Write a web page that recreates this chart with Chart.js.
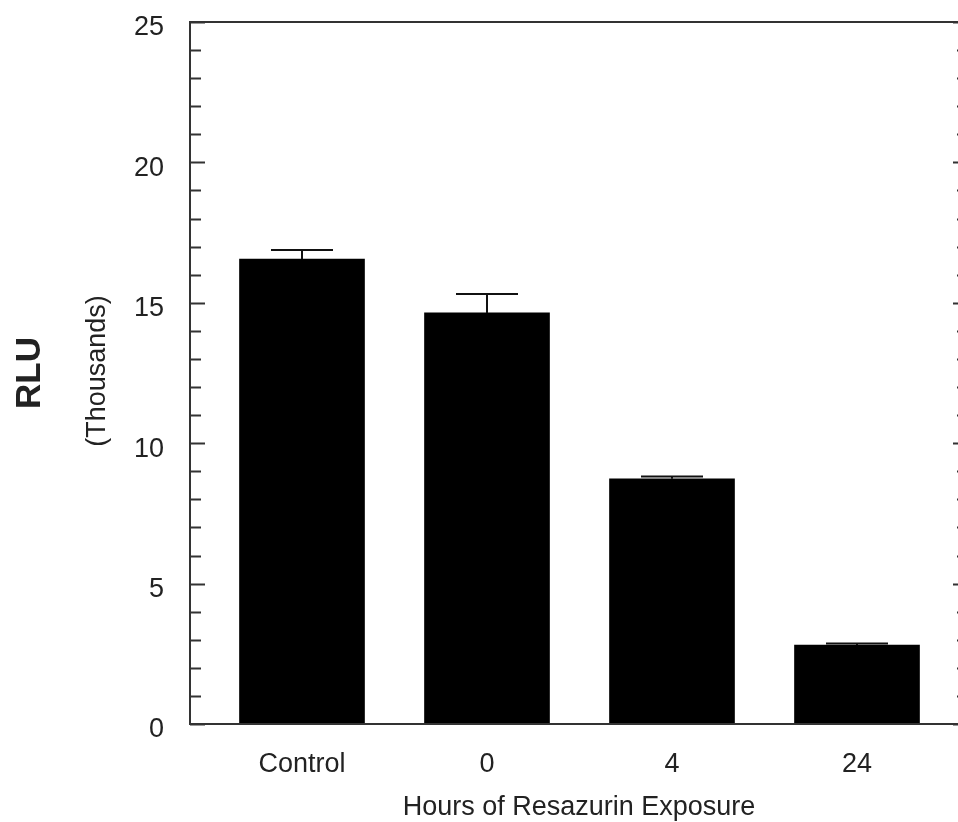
<!DOCTYPE html>
<html>
<head>
<meta charset="utf-8">
<script src="https://cdn.jsdelivr.net/npm/chart.js@4.4.1/dist/chart.umd.min.js"></script>
<style>
	html, body { margin: 0; padding: 0; background: #fff; overflow: hidden; }
	#wrap { width: 990px; height: 822px; }
</style>
</head>
<body>
<div id="wrap"><canvas id="myChart" width="990" height="822"></canvas></div>
<script>
const categories = ['Control', '0', '4', '24']
const rluValues = [16.56, 14.64, 8.73, 2.81]
const rluErrors = [0.32, 0.67, 0.08, 0.06]
const yTicks = [0, 5, 10, 15, 20, 25]

Chart.defaults.font.family = '"Liberation Sans", Arial, sans-serif'
Chart.defaults.color = '#222'

// inward ticks on left and right axes, plus the box and error bars
const framePlugin = {
	id: 'frame',
	afterDatasetsDraw(chart) {
		const ctx = chart.ctx
		const area = chart.chartArea
		const x = chart.scales.x
		const y = chart.scales.y

		ctx.save()
		ctx.strokeStyle = '#111'
		ctx.lineWidth = 2

		// error bars (upper only)
		rluValues.forEach(function (v, i) {
			const px = x.getPixelForValue(i)
			const yTop = y.getPixelForValue(v + rluErrors[i])
			const yBar = y.getPixelForValue(v)
			ctx.beginPath()
			ctx.moveTo(px, yBar)
			ctx.lineTo(px, yTop)
			ctx.moveTo(px - 31, yTop)
			ctx.lineTo(px + 31, yTop)
			ctx.stroke()
		})

		// minor + major ticks
		ctx.strokeStyle = '#333'
		for (let t = 0; t <= 25; t++) {
			const py = Math.round(y.getPixelForValue(t)) + 0.5
			const len = t % 5 === 0 ? 15 : 11
			ctx.beginPath()
			ctx.moveTo(area.left, py)
			ctx.lineTo(area.left + len, py)
			ctx.moveTo(area.right, py)
			ctx.lineTo(area.right - len, py)
			ctx.stroke()
		}

		// box
		ctx.strokeRect(area.left, area.top, area.right - area.left, area.bottom - area.top)

		// secondary y label
		ctx.translate(98, (area.top + area.bottom) / 2 - 2)
		ctx.rotate(-Math.PI / 2)
		ctx.fillStyle = '#222'
		ctx.font = '27px "Liberation Sans", Arial, sans-serif'
		ctx.textAlign = 'center'
		ctx.textBaseline = 'middle'
		ctx.fillText('(Thousands)', 0, 0)
		ctx.restore()
	},
}

const ctx1 = document.getElementById('myChart')

new Chart(ctx1, {
	type: 'bar',
	data: {
		datasets: [
			{
				label: 'RLU',
				data: categories.map(function (c, i) {
					return { x: i, y: rluValues[i] }
				}),
				backgroundColor: '#000',
				borderWidth: 0,
				barThickness: 125,
			},
		],
	},
	options: {
		responsive: false,
		animation: false,
		layout: {
			padding: { top: 22, right: 22, bottom: 0, left: 0 },
		},
		scales: {
			x: {
				type: 'linear',
				offset: false,
				min: -0.6054,
				max: 3.6,
				grid: { display: false, drawTicks: false, offset: false },
				border: { display: false },
				afterBuildTicks: function (scale) {
					scale.ticks = categories.map(function (c, i) {
						return { value: i }
					})
				},
				afterFit: function (scale) {
					scale.height = 98
					scale.paddingLeft = 0
					scale.paddingRight = 0
				},
				ticks: {
					padding: 24,
					maxRotation: 0,
					font: { size: 27 },
					callback: function (v) {
						return categories[v]
					},
				},
				title: {
					display: true,
					text: 'Hours of Resazurin Exposure',
					font: { size: 27 },
					padding: { top: 0, bottom: -2 },
				},
			},
			y: {
				min: 0,
				max: 25,
				grid: { display: false, drawTicks: false },
				border: { display: false },
				afterBuildTicks: function (scale) {
					scale.ticks = yTicks.map(function (t) {
						return { value: t }
					})
				},
				afterFit: function (scale) {
					scale.width = 190
					scale.paddingTop = 0
					scale.paddingBottom = 0
				},
				ticks: {
					padding: 26,
					labelOffset: 6,
					font: { size: 27 },
				},
				title: {
					display: true,
					text: 'RLU',
					font: { size: 35, weight: 'bold' },
					padding: { top: 9, bottom: 0 },
				},
			},
		},
		plugins: {
			legend: { display: false },
			tooltip: { enabled: false },
		},
	},
	plugins: [framePlugin],
})
</script>
</body>
</html>
